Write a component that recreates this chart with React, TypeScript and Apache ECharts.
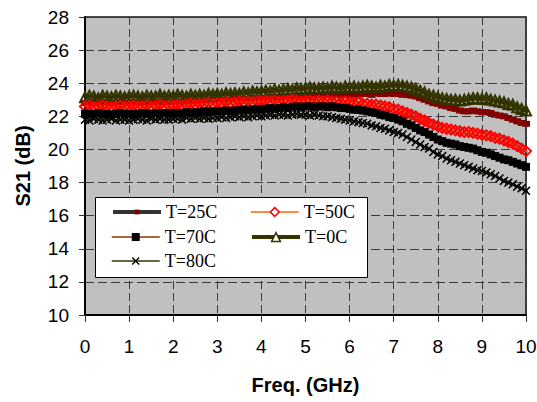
import React, { useEffect, useRef } from "react";
import * as echarts from "echarts";

// S21 (dB) sampled every 0.1 GHz from 0 to 10 GHz, one array per temperature
const s21_25C = [
  22.8, 22.85, 22.8, 22.75, 22.8, 22.85, 22.8, 22.8, 22.85, 22.8, 22.8,
  22.85, 22.8, 22.85, 22.8, 22.85, 22.85, 22.8, 22.9, 22.85, 22.85,
  22.9, 22.85, 22.9, 22.9, 22.95, 22.9, 22.95, 22.95, 23.0, 22.95,
  23.0, 22.95, 23.0, 23.05, 23.0, 23.05, 23.05, 23.1, 23.05, 23.1,
  23.1, 23.15, 23.1, 23.15, 23.2, 23.15, 23.2, 23.2, 23.25, 23.2,
  23.25, 23.2, 23.3, 23.25, 23.3, 23.25, 23.3, 23.35, 23.3, 23.3,
  23.35, 23.3, 23.35, 23.35, 23.3, 23.4, 23.35, 23.35, 23.4, 23.35,
  23.35, 23.3, 23.3, 23.25, 23.2, 23.1, 23.0, 22.9, 22.8, 22.75,
  22.65, 22.6, 22.5, 22.45, 22.35, 22.3, 22.3, 22.35, 22.3, 22.25,
  22.25, 22.2, 22.1, 22.05, 22.0, 21.9, 21.8, 21.7, 21.6, 21.55, 21.45,
];

const s21_50C = [
  22.6, 22.65, 22.55, 22.6, 22.65, 22.6, 22.55, 22.6, 22.65, 22.6, 22.6,
  22.65, 22.6, 22.6, 22.65, 22.6, 22.65, 22.7, 22.6, 22.65, 22.65,
  22.7, 22.65, 22.7, 22.75, 22.7, 22.75, 22.75, 22.8, 22.75, 22.8,
  22.8, 22.85, 22.8, 22.85, 22.9, 22.85, 22.9, 22.85, 22.9, 22.9,
  22.95, 22.9, 22.95, 22.9, 22.95, 22.95, 23.0, 22.95, 22.9, 22.95,
  22.95, 22.9, 22.95, 22.9, 22.95, 22.9, 22.9, 22.85, 22.9, 22.85,
  22.8, 22.85, 22.75, 22.75, 22.7, 22.7, 22.65, 22.6, 22.55, 22.45,
  22.4, 22.3, 22.2, 22.1, 22.0, 21.85, 21.75, 21.6, 21.5, 21.4,
  21.3, 21.25, 21.2, 21.15, 21.1, 21.05, 21.05, 21.0, 20.95, 20.9,
  20.85, 20.8, 20.7, 20.65, 20.55, 20.45, 20.35, 20.2, 20.05, 19.9, 19.75,
];

const s21_70C = [
  22.15, 22.1, 22.15, 22.2, 22.1, 22.15, 22.1, 22.15, 22.2, 22.15, 22.15,
  22.1, 22.15, 22.2, 22.15, 22.1, 22.2, 22.15, 22.2, 22.15, 22.2,
  22.2, 22.15, 22.25, 22.2, 22.25, 22.2, 22.3, 22.25, 22.3, 22.3,
  22.3, 22.35, 22.3, 22.35, 22.35, 22.4, 22.35, 22.4, 22.45, 22.4,
  22.45, 22.5, 22.45, 22.5, 22.55, 22.5, 22.55, 22.6, 22.55, 22.6,
  22.6, 22.55, 22.6, 22.6, 22.55, 22.6, 22.55, 22.5, 22.5, 22.45,
  22.4, 22.4, 22.35, 22.3, 22.25, 22.2, 22.1, 22.05, 21.95, 21.9,
  21.8, 21.7, 21.55, 21.45, 21.3, 21.15, 21.05, 20.9, 20.75, 20.6,
  20.5, 20.4, 20.35, 20.3, 20.2, 20.15, 20.1, 20.05, 19.95, 19.85,
  19.8, 19.7, 19.6, 19.5, 19.4, 19.35, 19.25, 19.15, 19.05, 18.95, 18.8,
];

const s21_0C = [
  23.15, 23.25, 23.2, 23.1, 23.25, 23.2, 23.15, 23.25, 23.2, 23.15, 23.2,
  23.25, 23.2, 23.15, 23.25, 23.2, 23.2, 23.3, 23.2, 23.25, 23.2,
  23.3, 23.25, 23.2, 23.3, 23.25, 23.3, 23.25, 23.35, 23.3, 23.35,
  23.3, 23.4, 23.35, 23.4, 23.35, 23.45, 23.4, 23.5, 23.45, 23.5,
  23.55, 23.5, 23.6, 23.55, 23.6, 23.65, 23.6, 23.7, 23.65, 23.7,
  23.75, 23.7, 23.7, 23.75, 23.7, 23.8, 23.75, 23.7, 23.8, 23.75,
  23.8, 23.75, 23.8, 23.85, 23.8, 23.75, 23.85, 23.8, 23.9, 23.85,
  23.9, 23.85, 23.8, 23.75, 23.65, 23.55, 23.45, 23.3, 23.25, 23.15,
  23.1, 23.05, 23.0, 23.0, 22.95, 23.0, 23.05, 23.1, 23.1, 23.05,
  23.1, 23.0, 22.95, 22.9, 22.85, 22.75, 22.7, 22.55, 22.45, 22.35, 22.25,
];

const s21_80C = [
  21.8, 21.75, 21.85, 21.8, 21.75, 21.8, 21.85, 21.75, 21.8, 21.8, 21.75,
  21.8, 21.85, 21.8, 21.75, 21.85, 21.8, 21.85, 21.8, 21.8, 21.85,
  21.85, 21.8, 21.9, 21.85, 21.9, 21.85, 21.9, 21.85, 21.9, 21.9,
  21.95, 21.9, 21.95, 22.0, 21.95, 22.0, 21.95, 22.0, 22.05, 22.0,
  22.05, 22.1, 22.05, 22.1, 22.1, 22.05, 22.1, 22.15, 22.1, 22.1,
  22.05, 22.1, 22.05, 22.0, 22.0, 21.95, 21.9, 21.85, 21.8, 21.75,
  21.7, 21.65, 21.6, 21.55, 21.45, 21.4, 21.3, 21.25, 21.15, 21.05,
  21.0, 20.9, 20.75, 20.6, 20.45, 20.3, 20.15, 20.05, 19.85, 19.7,
  19.6, 19.45, 19.35, 19.25, 19.15, 19.05, 18.95, 18.85, 18.75, 18.7,
  18.6, 18.5, 18.4, 18.25, 18.1, 18.0, 17.9, 17.75, 17.65, 17.5, 17.4,
];

// frequency of each sample (GHz)
const freqGHz = s21_25C.map((_, i) => i / 10);

const seriesNames = ["T=25C", "T=50C", "T=70C", "T=0C", "T=80C"];

const crossSymbol =
  "path://M0,1.2 L1.2,0 L5,3.8 L8.8,0 L10,1.2 L6.2,5 L10,8.8 L8.8,10 L5,6.2 L1.2,10 L0,8.8 L3.8,5 Z";

const pairs = (vals: number[]) => vals.map((v, i) => [freqGHz[i], v]);

export default function App() {
  const ref = useRef<HTMLDivElement>(null);

  useEffect(() => {
    if (!ref.current) return;
    const chart = echarts.init(ref.current, undefined, { renderer: "svg" });

    const labelFont = { fontFamily: "Liberation Sans", fontSize: 19, color: "#000" };
    const legendText = { fontFamily: "Liberation Serif", fontSize: 18, color: "#000" };

    const legendAt = (
      name: string,
      left: number,
      top: number,
      itemHeight: number,
      lineStyle: any,
      itemStyle: any = {}
    ) => ({
      data: [name],
      left,
      top,
      padding: 0,
      itemWidth: 48,
      itemHeight,
      selectedMode: false,
      z: 20,
      textStyle: legendText,
      lineStyle,
      itemStyle,
    });

    chart.setOption({
      animation: false,
      backgroundColor: "#fff",
      grid: {
        left: 85,
        top: 17,
        right: 11,
        bottom: 87,
        outerBoundsMode: "none",
        containLabel: false,
        show: true,
        backgroundColor: "#C0C0C0",
        borderColor: "#111",
        borderWidth: 1.5,
      },
      xAxis: {
        type: "value",
        min: 0,
        max: 10,
        interval: 1,
        name: "Freq. (GHz)",
        nameLocation: "middle",
        nameGap: 60,
        nameTextStyle: { fontFamily: "Liberation Sans", fontSize: 20, fontWeight: "bold", color: "#000" },
        axisLine: { show: true, lineStyle: { color: "#000", width: 2 } },
        axisTick: { show: true, length: 7, lineStyle: { color: "#333", width: 1 } },
        axisLabel: { ...labelFont, margin: 22 },
        splitLine: { show: true, lineStyle: { color: "#3a3a3a", width: 1, type: [8, 4] } },
      },
      yAxis: {
        type: "value",
        min: 10,
        max: 28,
        interval: 2,
        name: "S21 (dB)",
        nameLocation: "middle",
        nameGap: 52,
        nameTextStyle: { fontFamily: "Liberation Sans", fontSize: 20, fontWeight: "bold", color: "#000" },
        axisLine: { show: true, lineStyle: { color: "#000", width: 2 } },
        axisTick: { show: true, length: 6, lineStyle: { color: "#333", width: 1 } },
        axisLabel: { ...labelFont, margin: 16 },
        splitLine: { show: true, lineStyle: { color: "#3a3a3a", width: 1, type: [9, 4] } },
      },
      graphic: [
        {
          type: "rect",
          z: 10,
          shape: { x: 95.5, y: 197.5, width: 272, height: 80 },
          style: { fill: "#fff", stroke: "#000", lineWidth: 1 },
        },
      ],
      legend: [
        legendAt(seriesNames[0], 111, 203, 6, { color: "#333333", width: 4 }, { color: "#800000" }),
        legendAt(seriesNames[1], 250, 203, 11, { color: "#FF6600", width: 1.5 }, { color: "#fff", borderColor: "#FF0000", borderWidth: 1.5 }),
        legendAt(seriesNames[2], 111, 228, 10, { color: "#993300", width: 1.5 }, { color: "#000" }),
        legendAt(seriesNames[3], 250, 228, 11, { color: "#333300", width: 4 }, { color: "#fff", borderColor: "#333300", borderWidth: 1.5 }),
        legendAt(seriesNames[4], 111, 252, 10, { color: "#333300", width: 1.5 }, { color: "#000" }),
      ],
      series: [
        {
          name: "T=25C",
          type: "line",
          data: pairs(s21_25C),
          symbol: "rect",
          symbolSize: [8, 6],
          lineStyle: { color: "#333333", width: 4 },
          itemStyle: { color: "#800000" },
          z: 2,
        },
        {
          name: "T=0C",
          type: "line",
          data: pairs(s21_0C),
          symbol: "triangle",
          symbolSize: 10,
          lineStyle: { color: "#333300", width: 4 },
          itemStyle: { color: "rgba(0,0,0,0)", borderColor: "#333300", borderWidth: 2 },
          z: 3,
        },
        {
          name: "T=50C",
          type: "line",
          data: pairs(s21_50C),
          symbol: "diamond",
          symbolSize: 10,
          lineStyle: { color: "#FF6600", width: 1.5 },
          itemStyle: { color: "rgba(0,0,0,0)", borderColor: "#FF0000", borderWidth: 2 },
          z: 4,
        },
        {
          name: "T=70C",
          type: "line",
          data: pairs(s21_70C),
          symbol: "rect",
          symbolSize: 8,
          lineStyle: { color: "#993300", width: 1.5 },
          itemStyle: { color: "#000" },
          z: 5,
        },
        {
          name: "T=80C",
          type: "line",
          data: pairs(s21_80C),
          symbol: crossSymbol,
          symbolSize: 9,
          lineStyle: { color: "#333300", width: 1.5 },
          itemStyle: { color: "#000" },
          z: 6,
        },
      ],
    });

    return () => chart.dispose();
  }, []);

  return (
    <div
      ref={ref}
      style={{ position: "fixed", left: 0, top: 0, width: 537, height: 402, background: "#fff" }}
    />
  );
}
